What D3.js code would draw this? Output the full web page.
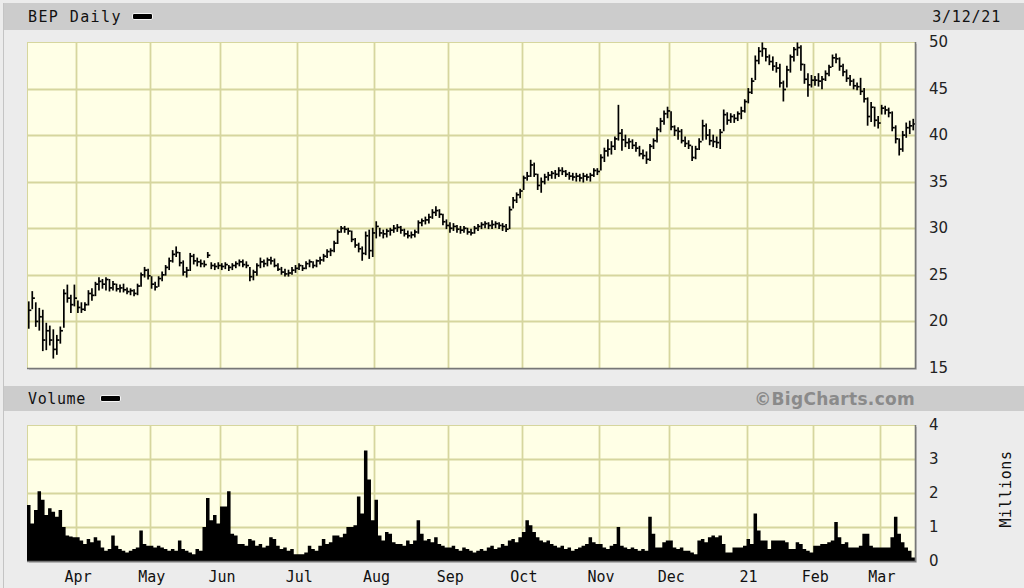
<!DOCTYPE html>
<html><head><meta charset="utf-8">
<script src="https://cdn.jsdelivr.net/npm/d3@7"></script>
<style>body{margin:0;background:#ececec;overflow:hidden}svg{display:block}</style>
</head><body><svg id="c" width="1024" height="588"></svg>
<script>
// ---------- DATA ----------
const symbolLabel = "BEP Daily";
const dateLabel = "3/12/21";
const volumeLabel = "Volume";
const creditLabel = "\u00A9BigCharts.com";
const unitsLabel = "Millions";
// trading days per calendar month shown (Mar-20 partial ... Mar-21 partial)
const monthTradingDays = [14, 21, 20, 22, 22, 21, 21, 22, 20, 22, 19, 19, 10];
// labels placed at the start of each month after the first
const monthLabels = ["Apr","May","Jun","Jul","Aug","Sep","Oct","Nov","Dec","21","Feb","Mar"];
const priceTicks = [15, 20, 25, 30, 35, 40, 45, 50];
const volumeTicks = [0, 1, 2, 3, 4];

const high = [
 22.1,23.2,22.0,21.4,21.2,19.8,19.5,19.1,18.5,19.4,23.4,23.9,22.8,23.9,
 22.2,22.0,22.0,23.3,23.5,24.2,24.7,24.5,24.7,24.5,24.3,24.0,23.9,24.0,23.6,23.5,23.4,24.0,25.2,25.8,25.6,
 24.8,24.2,24.8,25.3,26.0,26.8,27.6,28.0,27.4,26.5,25.8,27.3,27.2,26.8,26.6,26.5,27.4,26.3,26.2,26.3,
 26.2,26.3,26.0,26.2,26.4,26.6,26.6,26.4,25.8,25.5,26.2,26.8,26.6,26.8,26.9,26.7,26.2,25.8,25.6,25.5,25.8,26.0,
 26.2,26.0,26.4,26.6,26.4,26.6,26.9,27.2,27.7,27.8,28.6,29.8,30.2,30.2,30.0,29.7,28.9,28.4,28.0,29.6,29.8,30.0,
 30.7,30.0,29.8,29.9,30.0,30.3,30.4,30.2,29.9,29.7,29.6,29.8,30.8,31.0,31.2,31.5,32.0,32.3,32.0,31.5,30.9,
 30.6,30.5,30.3,30.2,30.2,30.0,29.9,30.2,30.4,30.6,30.7,30.6,30.8,30.7,30.6,30.5,30.4,32.3,33.3,33.8,34.2,
 35.6,36.0,37.3,37.0,35.8,35.4,35.8,36.0,36.1,36.2,36.5,36.5,36.2,36.0,35.9,35.9,35.8,35.9,35.8,35.9,36.4,36.4,
 37.9,38.6,39.5,39.3,39.8,43.2,40.6,40.0,39.6,39.5,39.2,38.8,38.4,38.2,39.0,39.6,40.8,41.8,42.6,43.0,
 42.5,41.0,40.8,40.6,39.8,39.4,38.8,38.8,39.6,41.6,41.2,40.6,40.0,39.8,40.6,42.7,42.4,42.3,42.2,42.5,43.0,43.8,
 45.0,46.1,48.5,49.4,49.9,49.3,48.6,48.4,47.8,47.6,45.8,47.4,48.6,49.4,49.9,49.6,47.6,46.6,46.4,
 46.3,46.6,46.3,46.9,47.5,48.6,48.7,48.3,47.6,47.0,46.4,46.0,45.6,46.1,45.0,44.0,43.5,43.0,42.0,
 43.2,43.1,42.9,42.5,41.0,39.6,40.4,41.3,41.5,41.7
];
const low = [
 19.3,21.4,19.5,19.1,16.9,17.0,17.5,16.1,16.5,17.7,19.4,22.1,21.0,21.7,
 21.0,21.0,21.2,21.8,22.3,22.8,23.4,23.6,23.4,23.3,23.4,23.3,23.2,23.2,23.0,22.9,22.8,22.9,23.8,24.8,24.6,
 23.6,23.4,23.8,24.4,25.0,25.6,26.4,27.0,26.0,25.0,24.8,25.5,26.2,26.0,25.9,25.9,26.9,25.7,25.6,25.7,
 25.6,25.7,25.5,25.6,25.8,26.0,25.9,25.8,24.4,24.5,25.0,25.8,25.9,26.0,26.2,25.9,25.5,25.1,24.9,24.9,25.1,25.3,
 25.6,25.5,25.7,25.9,25.8,25.9,26.2,26.5,26.9,27.1,27.5,28.4,29.6,29.6,29.4,28.6,28.0,27.5,26.6,27.2,26.8,27.0,
 29.0,29.2,29.0,29.1,29.3,29.6,29.7,29.5,29.2,29.0,29.0,29.1,29.5,30.3,30.5,30.6,31.1,31.4,31.2,30.4,30.0,
 29.6,29.8,29.6,29.5,29.6,29.4,29.3,29.5,29.8,30.0,30.1,30.0,30.0,30.1,30.0,29.8,29.7,30.0,32.2,32.8,33.3,
 34.2,35.2,35.6,35.6,34.2,33.9,34.8,35.2,35.4,35.4,35.6,35.8,35.6,35.3,35.2,35.1,35.1,35.0,35.2,35.1,35.6,35.8,
 36.3,37.2,37.8,38.0,38.5,39.5,38.4,38.8,38.6,38.6,38.3,37.8,37.5,37.0,37.3,38.6,39.3,40.4,41.2,41.9,
 40.6,40.0,39.6,39.2,38.8,38.6,37.3,37.5,38.5,39.5,39.6,39.0,38.8,38.7,38.6,40.5,41.2,41.4,41.4,41.6,41.8,42.5,
 43.5,44.5,46.0,47.7,48.5,48.0,47.6,47.0,46.8,45.2,43.7,45.2,46.8,48.0,48.6,47.0,45.6,44.2,45.2,
 45.4,45.3,45.0,45.9,46.4,47.4,47.8,47.0,46.4,45.8,45.4,45.0,44.9,44.4,43.6,41.1,41.5,41.0,40.8,
 42.3,42.3,42.0,40.5,39.2,37.9,38.3,39.8,40.2,40.6
];
const close = [
 21.2,22.5,20.0,20.5,18.0,19.0,18.0,17.0,18.0,19.0,23.0,22.5,21.8,22.5,
 21.5,21.3,21.8,23.0,22.8,24.0,24.3,24.0,24.5,23.6,24.0,23.5,23.6,23.4,23.2,23.3,23.0,23.8,25.0,25.5,24.9,
 24.0,23.7,24.6,25.0,25.8,26.5,27.2,27.4,26.3,25.3,25.5,27.0,26.5,26.4,26.2,26.1,27.1,26.0,25.9,26.0,
 25.9,26.1,25.8,26.0,26.2,26.4,26.1,26.0,24.8,25.3,26.0,26.4,26.2,26.6,26.5,26.0,25.6,25.3,25.1,25.2,25.5,25.7,
 26.0,25.7,26.2,26.4,26.0,26.5,26.6,27.0,27.5,27.6,28.4,29.6,30.0,29.9,29.7,28.8,28.2,27.8,27.3,29.2,27.6,29.5,
 30.2,29.5,29.4,29.7,29.8,30.0,30.1,29.8,29.4,29.2,29.3,29.6,30.6,30.8,30.9,31.2,31.7,31.9,31.5,30.7,30.3,
 30.0,30.2,29.9,29.8,30.0,29.6,29.5,30.0,30.2,30.4,30.5,30.3,30.4,30.5,30.3,30.2,29.9,32.0,33.0,33.6,34.0,
 35.4,35.6,36.8,35.8,34.6,35.0,35.5,35.7,35.9,35.8,36.2,36.1,35.8,35.6,35.5,35.6,35.4,35.6,35.5,35.7,36.2,36.1,
 37.6,38.3,38.5,38.8,39.6,40.2,39.5,39.2,39.3,38.9,38.6,38.0,37.8,37.4,38.8,39.4,40.6,41.5,42.3,42.6,
 40.9,40.5,40.4,39.4,39.1,38.9,37.6,38.5,39.3,41.0,40.0,39.4,39.3,39.2,40.3,42.2,41.6,42.0,41.8,42.3,42.6,43.6,
 44.6,45.8,48.0,49.0,49.3,48.4,47.9,47.4,47.2,45.6,44.9,47.0,48.4,49.2,49.4,47.6,46.0,45.4,45.9,
 45.9,45.8,46.0,46.6,47.3,48.3,48.2,47.4,46.8,46.1,45.8,45.3,45.2,44.7,43.9,42.0,43.0,41.6,41.3,
 42.9,42.7,42.4,40.8,39.6,38.5,40.0,40.8,41.0,41.2
];
// volume, millions of shares
const volume = [
 1.65,1.1,1.5,2.05,1.8,1.35,1.55,1.45,1.3,1.5,1.0,0.75,0.72,0.7,
 0.7,0.6,0.5,0.65,0.55,0.7,0.6,0.4,0.3,0.35,0.75,0.45,0.35,0.3,0.25,0.3,0.35,0.4,0.9,0.5,0.45,
 0.45,0.4,0.45,0.4,0.35,0.3,0.35,0.3,0.6,0.35,0.3,0.25,0.2,0.35,0.3,1.0,1.85,1.2,1.35,1.1,
 1.6,1.6,2.05,0.8,0.75,0.5,0.5,0.45,0.65,0.6,0.45,0.5,0.4,0.45,0.7,0.65,0.45,0.35,0.4,0.3,0.35,0.2,
 0.2,0.2,0.25,0.45,0.35,0.3,0.45,0.65,0.5,0.55,0.75,0.75,0.7,0.8,1.0,1.0,1.05,1.9,1.4,3.25,2.4,1.2,
 1.8,0.75,0.6,0.85,0.8,0.55,0.5,0.5,0.45,0.6,0.5,0.6,1.2,0.8,0.6,0.65,0.55,0.7,0.5,0.45,0.4,
 0.4,0.45,0.35,0.3,0.4,0.35,0.3,0.25,0.3,0.35,0.3,0.4,0.45,0.35,0.4,0.5,0.45,0.6,0.65,0.55,0.7,
 0.85,1.2,1.05,0.85,0.7,0.6,0.55,0.6,0.5,0.45,0.4,0.45,0.35,0.4,0.3,0.35,0.4,0.45,0.5,0.7,0.55,0.5,
 0.5,0.4,0.35,0.45,0.5,1.0,0.45,0.4,0.35,0.4,0.35,0.3,0.35,0.3,1.3,0.8,0.4,0.4,0.55,0.6,
 0.6,0.4,0.35,0.4,0.3,0.3,0.25,0.2,0.6,0.65,0.55,0.7,0.75,0.7,0.75,0.5,0.25,0.25,0.4,0.4,0.4,0.45,
 0.65,0.5,1.4,0.9,0.6,0.6,0.35,0.6,0.6,0.6,0.6,0.55,0.35,0.35,0.55,0.5,0.35,0.3,0.25,
 0.45,0.45,0.5,0.5,0.55,0.6,1.15,0.7,0.5,0.55,0.4,0.4,0.4,0.45,0.8,0.8,0.45,0.4,0.4,
 0.4,0.4,0.4,0.7,1.3,0.8,0.55,0.4,0.3,0.1
];

// ---------- CHART ----------
const svg = d3.select("#c");
const W = 1024, H = 588;
const plotL = 27, plotR = 915;
const pTop = 42, pBot = 368;
const vTop = 425, vBot = 561;
const N = close.length;
const days = d3.range(N);

const monthStarts = d3.cumsum(monthTradingDays).slice(0, monthLabels.length);

const x = d3.scaleLinear().domain([0, N]).range([plotL, plotR]);
const yP = d3.scaleLinear().domain([15, 50]).range([pBot, pTop]);
const yV = d3.scaleLinear().domain([0, 4]).range([vBot, vTop]);

const mono = "'DejaVu Sans Mono', 'Liberation Mono', monospace";
const sans = "'DejaVu Sans', Verdana, sans-serif";
const gridCol = "#d6d69e";
const plotBg = "#ffffe6";

svg.append("rect").attr("width", W).attr("height", H).attr("fill", "#ececec");
svg.append("line").attr("x1", 3.5).attr("x2", 3.5).attr("y1", 3).attr("y2", H).attr("stroke", "#c4c4c4");
svg.append("rect").attr("x", 4).attr("y", 3).attr("width", W - 4).attr("height", 27).attr("fill", "#cccccc");
svg.append("rect").attr("x", 4).attr("y", 386).attr("width", W - 4).attr("height", 25).attr("fill", "#cccccc");

// header texts
svg.append("text").attr("x", 28).attr("y", 22).text(symbolLabel)
  .attr("font-family", mono).attr("font-size", 15).attr("letter-spacing", 1.4).attr("fill", "#111");
svg.append("rect").attr("x", 132.5).attr("y", 13.5).attr("width", 20).attr("height", 6).attr("rx", 1.5)
  .attr("fill", "#000").attr("stroke", "#f4f4f4").attr("stroke-width", 1);
svg.append("text").attr("x", 1001).attr("y", 22).attr("text-anchor", "end").text(dateLabel)
  .attr("font-family", mono).attr("font-size", 15).attr("letter-spacing", 0.8).attr("fill", "#111");

svg.append("text").attr("x", 28).attr("y", 404).text(volumeLabel)
  .attr("font-family", mono).attr("font-size", 15).attr("letter-spacing", 0.6).attr("fill", "#111");
svg.append("rect").attr("x", 100.5).attr("y", 395.5).attr("width", 20).attr("height", 6).attr("rx", 1.5)
  .attr("fill", "#000").attr("stroke", "#f4f4f4").attr("stroke-width", 1);
svg.append("text").attr("x", 915).attr("y", 405).attr("text-anchor", "end").text(creditLabel)
  .attr("font-family", sans).attr("font-weight", "bold").attr("font-size", 17).attr("letter-spacing", 0.3)
  .attr("fill", "#8a8a8a");

function panel(top, bot, yScale, ticks) {
  const g = svg.append("g");
  g.append("rect").attr("x", plotL + 2).attr("y", top + 2).attr("width", plotR - plotL).attr("height", bot - top)
    .attr("fill", "#c8c8c8");
  g.append("rect").attr("x", plotL).attr("y", top).attr("width", plotR - plotL).attr("height", bot - top)
    .attr("fill", plotBg);
  g.selectAll("line.h").data(ticks.slice(1, -1)).join("line")
    .attr("x1", plotL).attr("x2", plotR)
    .attr("y1", d => Math.round(yScale(d)) + 0.5).attr("y2", d => Math.round(yScale(d)) + 0.5)
    .attr("stroke", gridCol).attr("stroke-width", 1.8);
  g.selectAll("line.v").data(monthStarts).join("line")
    .attr("x1", d => Math.round(x(d)) + 0.5).attr("x2", d => Math.round(x(d)) + 0.5)
    .attr("y1", top).attr("y2", bot)
    .attr("stroke", gridCol).attr("stroke-width", 1.8);
  g.append("line").attr("x1", plotL).attr("x2", plotR).attr("y1", top + 0.5).attr("y2", top + 0.5)
    .attr("stroke", gridCol).attr("stroke-width", 1.2);
  g.append("line").attr("x1", plotL + 0.5).attr("x2", plotL + 0.5).attr("y1", top).attr("y2", bot)
    .attr("stroke", gridCol).attr("stroke-width", 1);
  g.selectAll("text").data(ticks).join("text")
    .attr("x", 929).attr("y", d => yScale(d) + 5).text(d => d)
    .attr("font-family", sans).attr("font-size", 15).attr("fill", "#222");
  return g;
}

const pg = panel(pTop, pBot, yP, priceTicks);
const vg = panel(vTop, vBot, yV, volumeTicks);

// volume area (black steps, one continuous shape)
const stepPts = days.concat([N]);
const volArea = d3.area()
  .x(i => x(i))
  .y0(yV(0))
  .y1(i => yV(volume[Math.min(i, N - 1)]))
  .curve(d3.curveStepAfter);
vg.append("path").datum(stepPts).attr("d", volArea).attr("fill", "#000");

function frame(top, bot) {
  svg.append("line").attr("x1", plotL).attr("x2", plotR + 1).attr("y1", bot + 0.5).attr("y2", bot + 0.5)
    .attr("stroke", "#777").attr("stroke-width", 1.6);
  svg.append("line").attr("x1", plotR + 0.5).attr("x2", plotR + 0.5).attr("y1", top).attr("y2", bot + 1)
    .attr("stroke", "#777").attr("stroke-width", 1.6);
}
frame(pTop, pBot);
frame(vTop, vBot);

// price HLC bars
const bars = pg.append("g").attr("stroke", "#000").attr("stroke-width", 1.7);
bars.selectAll("line.hl").data(days).join("line")
  .attr("x1", i => x(i + 0.5)).attr("x2", i => x(i + 0.5))
  .attr("y1", i => yP(high[i]) - 0.5).attr("y2", i => yP(low[i]) + 0.8);
bars.selectAll("line.c").data(days).join("line")
  .attr("x1", i => x(i + 0.5)).attr("x2", i => x(i + 0.5) + 2.6)
  .attr("y1", i => yP(close[i])).attr("y2", i => yP(close[i]));

// month labels
svg.append("g").selectAll("text").data(monthStarts).join("text")
  .attr("x", d => x(d) + 2).attr("y", 582).attr("text-anchor", "middle")
  .text((d, i) => monthLabels[i])
  .attr("font-family", mono).attr("font-size", 15).attr("fill", "#111");

svg.append("text").attr("transform", "translate(1011,489) rotate(-90)").attr("text-anchor", "middle")
  .text(unitsLabel).attr("font-family", mono).attr("font-size", 15).attr("letter-spacing", 0.6).attr("fill", "#111");
</script></body></html>
